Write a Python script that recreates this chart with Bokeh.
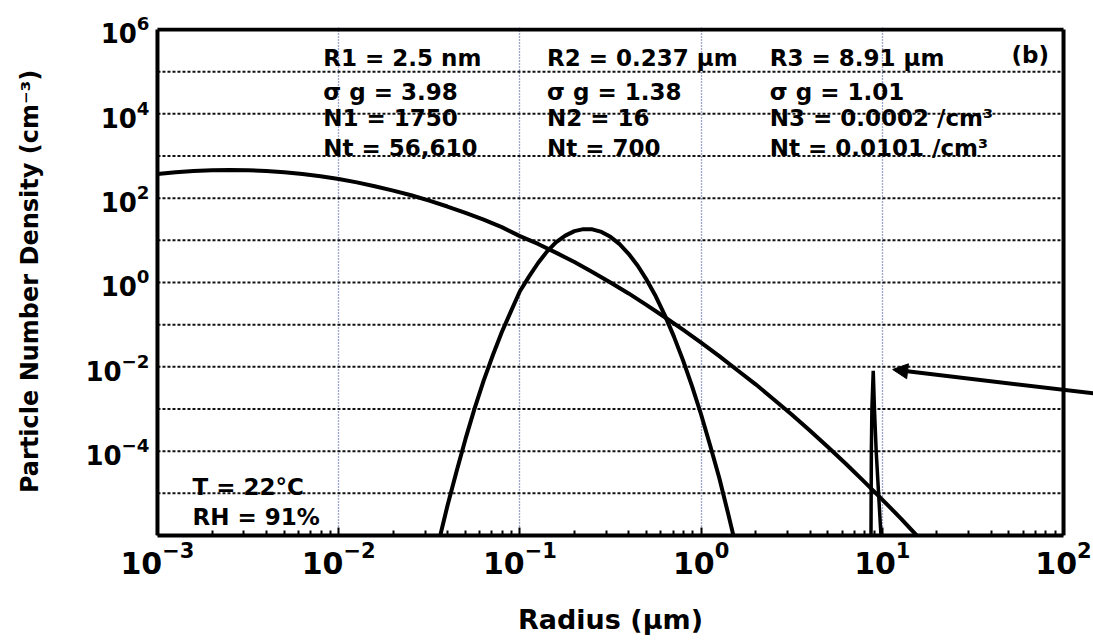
from bokeh.plotting import figure
from bokeh.models import FixedTicker, Label, Arrow, NormalHead, Range1d, LogTickFormatter
from bokeh.embed import file_html
from bokeh.resources import INLINE

# Mode 1: nucleation mode (R1 = 2.5 nm, sigma_g = 3.98)
mode1_radius = [0.001, 0.00126, 0.00158, 0.002, 0.00251, 0.00316, 0.00398, 0.00501,
                0.00631, 0.00794, 0.01, 0.0126, 0.0158, 0.02, 0.0251, 0.0316,
                0.0398, 0.0501, 0.0631, 0.0794, 0.1, 0.126, 0.158, 0.2, 0.251,
                0.316, 0.398, 0.501, 0.631, 0.794, 1.0, 1.26, 1.58, 2.0, 2.51,
                3.16, 3.98, 5.01, 6.31, 7.94, 10.0, 12.6, 15.8]
mode1_density = [374, 413, 443, 461, 468, 461, 443, 413,
                 374, 330, 284, 237, 192, 151, 117, 87,
                 63.3, 44.8, 30.8, 20.6, 12.6, 8.2, 5.1, 3.05, 1.78,
                 1.0, 0.55, 0.29, 0.150, 0.076, 0.0375, 0.0180, 8.4e-3, 3.85e-3, 1.71e-3,
                 7.4e-4, 3.08e-4, 1.25e-4, 4.95e-5, 1.9e-5, 7.1e-6, 2.59e-6, 9.1e-7]

# Mode 2: accumulation mode (R2 = 0.237 um, sigma_g = 1.38)
mode2_radius = [0.0355, 0.0398, 0.0447, 0.0501, 0.0562, 0.0631, 0.0708, 0.0794,
                0.0891, 0.1, 0.112, 0.126, 0.141, 0.158, 0.178, 0.2, 0.224,
                0.251, 0.282, 0.316, 0.355, 0.398, 0.447, 0.501, 0.562, 0.631,
                0.708, 0.794, 0.891, 1.0, 1.12, 1.26, 1.41, 1.58]
mode2_density = [6.6e-7, 5.0e-6, 3.3e-5, 1.95e-4, 1.02e-3, 4.7e-3, 0.0186, 0.066,
                 0.204, 0.62, 1.36, 2.9, 5.4, 8.9, 12.9, 16.5, 18.4,
                 18.2, 15.8, 12.1, 8.1, 4.8, 2.5, 1.15, 0.47, 0.166,
                 0.052, 0.0144, 3.5e-3, 7.4e-4, 1.4e-4, 2.3e-5, 3.3e-6, 4.3e-7]

# Mode 3: coarse mode (R3 = 8.91 um, sigma_g = 1.01)
mode3_radius = [8.66, 8.70, 8.76, 8.91, 9.05, 9.25, 9.83]
mode3_density = [1e-6, 1e-4, 1e-3, 8e-3, 1e-3, 1e-4, 1e-6]

x_decades = [1e-3, 1e-2, 1e-1, 1e0, 1e1, 1e2]
x_minor = [m * d for d in x_decades[:-1] for m in range(2, 10)]
y_labelled = [1e-4, 1e-2, 1e0, 1e2, 1e4, 1e6]
y_grid = [10.0 ** k for k in range(-5, 6)]
x_grid = [1e-2, 1e-1, 1e0, 1e1]

mode_text = [
    ["R1 = 2.5 nm", "\u03c3 g = 3.98", "N1 = 1750", "Nt = 56,610"],
    ["R2 = 0.237 \u03bcm", "\u03c3 g = 1.38", "N2 = 16", "Nt = 700"],
    ["R3 = 8.91 \u03bcm", "\u03c3 g = 1.01", "N3 = 0.0002 /cm\u00b3", "Nt = 0.0101 /cm\u00b3"],
]
condition_text = ["T = 22\u00b0C", "RH = 91%"]
x_title = "Radius (\u03bcm)"
y_title = "Particle Number Density (cm\u207b\u00b3)"

FONT = "DejaVu Sans"
X_MIN, X_MAX = x_decades[0], x_decades[-1]
Y_MIN, Y_MAX = 1e-6, 1e6

# The plotting area is padded equally on both sides of the 10^-3..10^2 box
# (so the x title stays centred under it) and lets the pointer arrow run
# out past the right edge of the box; the box sides are drawn explicitly.
PAD = 0.1654  # decades of padding either side
p = figure(width=1093, height=641, x_axis_type="log", y_axis_type="log",
           x_range=Range1d(10 ** (-3 - PAD), 10 ** (2 + PAD)),
           y_range=Range1d(Y_MIN, 10 ** 6.047),
           output_backend="svg", toolbar_location=None,
           min_border_left=127, min_border_right=0,
           min_border_top=27, min_border_bottom=106,
           background_fill_color="white", border_fill_color="white")
p.outline_line_color = None

# axes
for ax in (p.xaxis, p.yaxis):
    ax.major_label_text_font = FONT
    ax.major_label_text_font_style = "bold"
    ax.major_label_text_color = "black"
    ax.axis_label_text_font = FONT
    ax.axis_label_text_font_style = "bold"
    ax.axis_label_text_color = "black"
    ax.formatter = LogTickFormatter()

p.xaxis.axis_line_width = 4
p.xaxis.axis_line_color = "black"
p.xaxis.bounds = (X_MIN, X_MAX)
p.xaxis.ticker = FixedTicker(ticks=x_decades, minor_ticks=x_minor)
p.xaxis.major_tick_in = 8
p.xaxis.major_tick_out = 0
p.xaxis.minor_tick_in = 5
p.xaxis.minor_tick_out = 0
p.xaxis.major_tick_line_width = 2
p.xaxis.minor_tick_line_width = 2
p.xaxis.major_label_text_font_size = "30px"
p.xaxis.major_label_standoff = 5
p.xaxis.axis_label = x_title
p.xaxis.axis_label_text_font_size = "27px"
p.xaxis.axis_label_standoff = 27

# y axis: labels pulled in to sit just left of the box side at 10^-3
p.yaxis.axis_line_color = None
p.yaxis.ticker = FixedTicker(ticks=y_labelled, minor_ticks=[])
p.yaxis.major_tick_in = 0
p.yaxis.major_tick_out = 0
p.yaxis.minor_tick_in = 0
p.yaxis.minor_tick_out = 0
p.yaxis.major_label_text_font_size = "26px"
p.yaxis.major_label_standoff = -22
p.yaxis.axis_label = y_title
p.yaxis.axis_label_text_font_size = "24px"
p.yaxis.axis_label_standoff = 38

# grids: fine blue dots at each x decade, black dashes at each y decade
p.xgrid.ticker = FixedTicker(ticks=x_grid)
p.xgrid.grid_line_color = "#3c4c96"
p.xgrid.grid_line_width = 1.3
p.xgrid.grid_line_dash = "1 2"
p.ygrid.visible = False
p.segment(x0=[X_MIN] * len(y_grid), x1=[X_MAX] * len(y_grid), y0=y_grid, y1=y_grid,
          line_color="#111111", line_width=2, line_dash="3 2")

# left, top and right sides of the box
p.segment(x0=[X_MIN, X_MIN, X_MAX], y0=[Y_MIN, Y_MAX, Y_MIN],
          x1=[X_MIN, X_MAX, X_MAX], y1=[Y_MAX, Y_MAX, Y_MAX],
          line_color="black", line_width=4)

# size distributions
p.line(mode1_radius, mode1_density, line_color="black", line_width=4)
p.line(mode2_radius, mode2_density, line_color="black", line_width=4)
p.line(mode3_radius, mode3_density, line_color="black", line_width=3.5)

# arrow pointing at the coarse-mode peak
peak_n = max(mode3_density)
peak_r = mode3_radius[mode3_density.index(peak_n)]
p.add_layout(Arrow(end=NormalHead(size=15, fill_color="black", line_color="black"),
                   x_start=204, y_start=0.00198,
                   x_end=peak_r * 1.28, y_end=peak_n * 1.08,
                   line_color="black", line_width=4))

# mode parameter blocks
col_x = [10 ** -2.085, 10 ** -0.850, 10 ** 0.379]
row_y = [10 ** 5.312, 10 ** 4.518, 10 ** 3.901, 10 ** 3.190]
for cx, lines in zip(col_x, mode_text):
    for ry, txt in zip(row_y, lines):
        p.add_layout(Label(x=cx, y=ry, text=txt, text_font=FONT,
                           text_font_style="bold", text_font_size="23px",
                           text_color="black", text_baseline="alphabetic"))

p.add_layout(Label(x=10 ** 1.713, y=10 ** 5.383, text="(b)", text_font=FONT,
                   text_font_style="bold", text_font_size="23px",
                   text_color="black", text_baseline="alphabetic"))

cond_y = [10 ** -4.861, 10 ** -5.573]
for ry, txt in zip(cond_y, condition_text):
    p.add_layout(Label(x=10 ** -2.807, y=ry, text=txt, text_font=FONT,
                       text_font_style="bold", text_font_size="23px",
                       text_color="black", text_baseline="alphabetic"))

open("out.html", "w").write(file_html(p, INLINE))
